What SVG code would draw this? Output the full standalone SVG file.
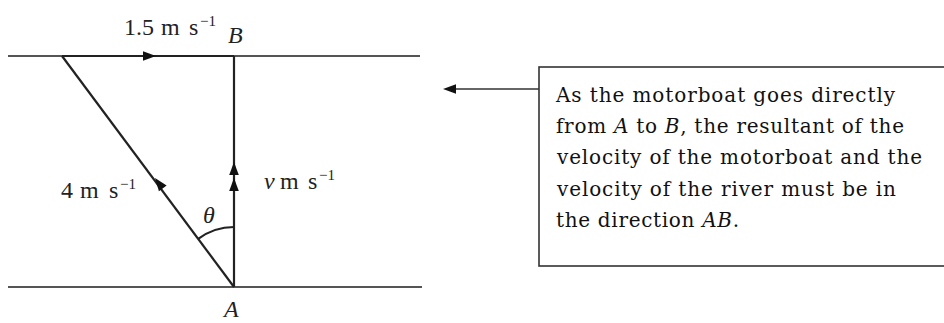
<svg xmlns="http://www.w3.org/2000/svg" xmlns:xlink="http://www.w3.org/1999/xlink" width="944" height="323" viewBox="0 0 944 323">
<style>
.lbl{font-family:"Liberation Serif","Times New Roman",serif;font-size:24px;fill:#222}
.it{font-style:italic}
.sup{font-size:15px}
.note{font-family:"DejaVu Serif","Liberation Serif",serif;font-size:20px;fill:#111}
.river{stroke:#555;stroke-width:2;fill:none}
.vec{stroke:#222;stroke-width:2.2;fill:none}
.ah{fill:#111}
</style>
<defs>
<path id="ah" d="M0,0 L-13,-4.8 L-13,4.8 z"/>
</defs>
<rect width="944" height="323" fill="#fff"/>
<g id="connectors">
<line class="river" x1="8" y1="56" x2="420" y2="56"/>
<line class="river" x1="8" y1="287" x2="422" y2="287"/>
<line class="vec" x1="62" y1="56" x2="234" y2="56"/>
<line class="vec" x1="62" y1="56" x2="234" y2="287"/>
<line class="vec" x1="234" y1="56" x2="234" y2="287"/>
<path class="vec" stroke-width="1.6" d="M198.2,238.9 A60,60 0 0 1 234,227"/>
<use href="#ah" class="ah" transform="translate(156,56)"/>
<use href="#ah" class="ah" transform="translate(155,178) rotate(233.3)"/>
<use href="#ah" class="ah" transform="translate(234,162) rotate(-90)"/>
<use href="#ah" class="ah" transform="translate(234,178) rotate(-90)"/>
<line stroke="#333" stroke-width="1.6" x1="539" y1="89" x2="452" y2="89"/>
<use href="#ah" class="ah" transform="translate(443,89) rotate(180)"/>
</g>
<g id="labels">
<text class="lbl" y="35"><tspan x="124">1.5</tspan><tspan x="161">m</tspan><tspan x="189">s</tspan><tspan class="sup" x="200" dy="-9">−1</tspan></text>
<text class="lbl it" x="228" y="43">B</text>
<text class="lbl" y="198"><tspan x="61">4</tspan><tspan x="80">m</tspan><tspan x="109">s</tspan><tspan class="sup" x="120" dy="-9">−1</tspan></text>
<text class="lbl" y="189"><tspan class="it" x="264">ν</tspan><tspan x="280">m</tspan><tspan x="308">s</tspan><tspan class="sup" x="319" dy="-9">−1</tspan></text>
<text class="lbl it" x="203" y="223">θ</text>
<text class="lbl it" x="224" y="317">A</text>
</g>
<g id="note">
<rect x="539" y="67" width="410" height="199" fill="#fff" stroke="#333" stroke-width="1.6"/>
<text class="note" x="556" y="102" textLength="339" lengthAdjust="spacing">As the motorboat goes directly</text>
<text class="note" x="556" y="133" textLength="348" lengthAdjust="spacing">from <tspan font-style="italic">A</tspan> to <tspan font-style="italic">B</tspan>, the resultant of the</text>
<text class="note" x="557" y="164" textLength="365" lengthAdjust="spacing">velocity of the motorboat and the</text>
<text class="note" x="557" y="196" textLength="339" lengthAdjust="spacing">velocity of the river must be in</text>
<text class="note" x="556" y="227" textLength="183" lengthAdjust="spacing">the direction <tspan font-style="italic">AB</tspan>.</text>
</g>
</svg>
